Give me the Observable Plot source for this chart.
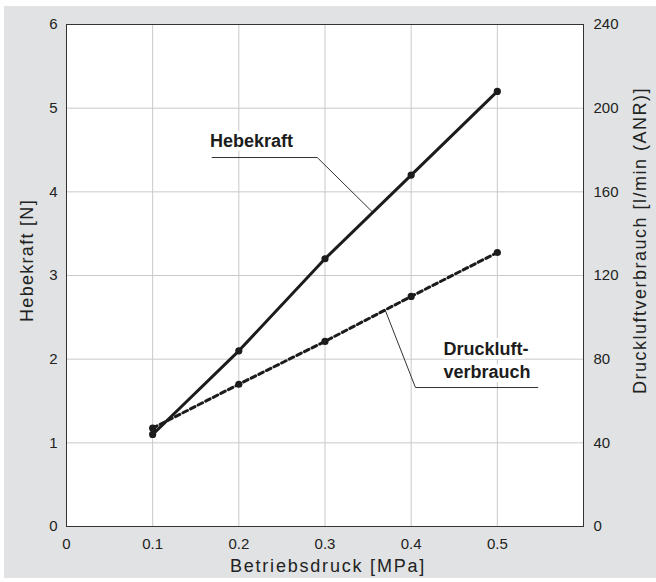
<!DOCTYPE html>
<html>
<head>
<meta charset="utf-8">
<script src="https://cdn.jsdelivr.net/npm/d3@7"></script>
<script src="https://cdn.jsdelivr.net/npm/@observablehq/plot@0.6"></script>
<style>
  html, body { margin: 0; padding: 0; background: #ffffff; }
  #wrap { position: relative; width: 656px; height: 582px; overflow: hidden; }
  #bg { position: absolute; left: 4px; top: 6px; right: 0; bottom: 4px; background: #e1e2e3; }
  #chart { position: absolute; left: 0; top: 0; }
  #chart svg { font-family: "Liberation Sans", Arial, Helvetica, sans-serif; }
</style>
</head>
<body>
<div id="wrap"><div id="bg"></div><div id="chart"></div></div>
<script>
// Data
const pressure = [0.1, 0.2, 0.3, 0.4, 0.5];              // Betriebsdruck [MPa]
const hebekraft = [1.1, 2.1, 3.2, 4.2, 5.2];              // Hebekraft [N]
const luftverbrauch = [47, 68, 88.5, 110, 131];            // Druckluftverbrauch [l/min (ANR)]
const xTicks = [0, 0.1, 0.2, 0.3, 0.4, 0.5];
const yTicksLeft = [0, 1, 2, 3, 4, 5, 6];
const yTicksRight = [0, 40, 80, 120, 160, 200, 240];
const rightFactor = 40; // 240 / 6

const xTitle = "Betriebsdruck [MPa]";
const yTitleLeft = "Hebekraft [N]";
const yTitleRight = "Druckluftverbrauch [l/min (ANR)]";

// Annotation anchors (data units)
const hebLabel = [{x: 0.1665, y: 4.6, text: "Hebekraft"}];
const hebLeader = [[0.169, 4.41], [0.291, 4.41], [0.355, 3.76]];
const druckLabel = [
  {x: 0.4375, y: 2.113, text: "Druckluft-"},
  {x: 0.4375, y: 1.838, text: "verbrauch"}
];
const druckLeader = [[0.3703, 2.575], [0.405, 1.661], [0.547, 1.661]];

const heb = pressure.map((p, i) => ({x: p, y: hebekraft[i]}));
const luft = pressure.map((p, i) => ({x: p, y: luftverbrauch[i] / rightFactor}));

const ink = "#1c1c1c";

const plot = Plot.plot({
  width: 656,
  height: 582,
  marginLeft: 66,
  marginRight: 73,
  marginTop: 24,
  marginBottom: 56,
  style: {background: "transparent", overflow: "visible"},
  x: {domain: [0, 0.6]},
  y: {domain: [0, 6]},
  marks: [
    Plot.frame({fill: "white"}),
    Plot.gridX(xTicks.filter(d => d > 0), {stroke: "#c9c9c9", strokeOpacity: 1, strokeWidth: 1}),
    Plot.gridY(yTicksLeft.filter(d => d > 0 && d < 6), {stroke: "#c9c9c9", strokeOpacity: 1, strokeWidth: 1}),
    Plot.frame({stroke: "#333", strokeWidth: 1}),
    Plot.axisX(xTicks, {anchor: "bottom", tickSize: 0, tickPadding: 12, fontSize: 15, fill: "#222", label: null, tickFormat: d => d === 0 ? "0" : d3.format(".1f")(d)}),
    Plot.axisY(yTicksLeft, {anchor: "left", tickSize: 0, tickPadding: 9, fontSize: 15, fill: "#222", label: null, tickFormat: d => String(d)}),
    Plot.axisY(yTicksRight.map(v => v / rightFactor), {anchor: "right", tickSize: 0, tickPadding: 10, fontSize: 15, fill: "#222", label: null, tickFormat: d => String(Math.round(d * rightFactor))}),
    // axis titles
    Plot.text([xTitle], {frameAnchor: "bottom", textAnchor: "middle", dx: 3, dy: 45, fontSize: 18, fill: "#222"}),
    Plot.text([yTitleLeft], {frameAnchor: "left", textAnchor: "middle", dx: -39, dy: -15, rotate: -90, fontSize: 18, fill: "#222"}),
    Plot.text([yTitleRight], {frameAnchor: "right", textAnchor: "middle", dx: 57, dy: -35, rotate: -90, fontSize: 18, fill: "#222"}),
    // annotation labels with white halo
    Plot.text(hebLabel, {x: "x", y: "y", text: "text", textAnchor: "start", fontSize: 18, fontWeight: "bold", fill: ink, stroke: "white", strokeWidth: 7}),
    Plot.text(druckLabel, {x: "x", y: "y", text: "text", textAnchor: "start", fontSize: 18, fontWeight: "bold", fill: ink, stroke: "white", strokeWidth: 8}),
    Plot.line(hebLeader, {stroke: "#333", strokeWidth: 1}),
    Plot.line(druckLeader, {stroke: "#333", strokeWidth: 1}),
    // data series
    Plot.line(luft, {x: "x", y: "y", stroke: ink, strokeWidth: 3, strokeDasharray: "5,3.5"}),
    Plot.dot(luft, {x: "x", y: "y", r: 3.6, fill: ink}),
    Plot.line(heb, {x: "x", y: "y", stroke: ink, strokeWidth: 3}),
    Plot.dot(heb, {x: "x", y: "y", r: 3.6, fill: ink})
  ]
});
// widen axis titles to match the reference's wider lettering
const spacing = new Map([[xTitle, "1.8px"], [yTitleLeft, "1.3px"], [yTitleRight, "1.5px"]]);
d3.select(plot).selectAll("text").each(function () {
  const s = spacing.get(this.textContent);
  if (s) this.setAttribute("letter-spacing", s);
});
document.getElementById("chart").appendChild(plot);
</script>
</body>
</html>
